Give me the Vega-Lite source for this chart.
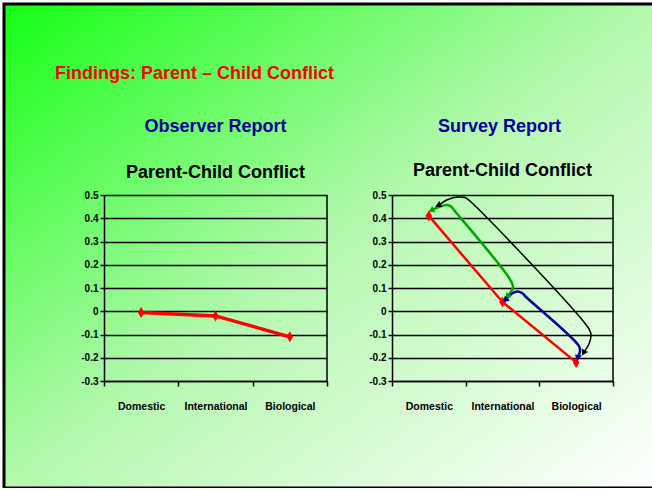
{
  "$schema": "https://vega.github.io/schema/vega-lite/v6.json",
  "width": 650,
  "height": 484,
  "autosize": {"type": "none"},
  "padding": {"left": 4, "top": 4, "right": 0, "bottom": 0},
  "background": "#ffffff",
  "view": {
    "fill": {
      "gradient": "linear", "x1": 0, "y1": 0, "x2": 1, "y2": 1,
      "stops": [
        {"offset": 0, "color": "#14ff14"},
        {"offset": 0.5, "color": "#b4f8ae"},
        {"offset": 1, "color": "#ffffff"}
      ]
    },
    "stroke": "#000000",
    "strokeWidth": 3
  },
  "config": {
    "axis": {
      "domainColor": "#000000", "domainWidth": 1.5,
      "tickColor": "#000000", "tickWidth": 1.5,
      "gridColor": "#000000", "gridWidth": 1.5, "gridOpacity": 1,
      "labelColor": "#000000", "labelFont": "Liberation Sans",
      "labelFontWeight": "bold", "title": null
    }
  },
  "datasets": {
    "observer": [
      {"type": "Domestic", "value": -0.005},
      {"type": "International", "value": -0.02},
      {"type": "Biological", "value": -0.11}
    ],
    "survey": [
      {"type": "Domestic", "value": 0.41},
      {"type": "International", "value": 0.04},
      {"type": "Biological", "value": -0.22}
    ],
    "arrows": [
      {"arrow": "green", "i": 1, "x": 0.543, "y": 0.4355},
      {"arrow": "green", "i": 2, "x": 0.651, "y": 0.4505},
      {"arrow": "green", "i": 3, "x": 0.747, "y": 0.457},
      {"arrow": "green", "i": 4, "x": 0.801, "y": 0.4505},
      {"arrow": "green", "i": 5, "x": 0.855, "y": 0.43},
      {"arrow": "green", "i": 6, "x": 1.588, "y": 0.144},
      {"arrow": "green", "i": 7, "x": 1.642, "y": 0.105},
      {"arrow": "green", "i": 8, "x": 1.575, "y": 0.067},
      {"arrow": "blue", "i": 1, "x": 1.547, "y": 0.0505},
      {"arrow": "blue", "i": 2, "x": 1.629, "y": 0.0763},
      {"arrow": "blue", "i": 3, "x": 1.697, "y": 0.0849},
      {"arrow": "blue", "i": 4, "x": 1.765, "y": 0.0785},
      {"arrow": "blue", "i": 5, "x": 1.819, "y": 0.0613},
      {"arrow": "blue", "i": 6, "x": 2.538, "y": -0.1495},
      {"arrow": "blue", "i": 7, "x": 2.552, "y": -0.171},
      {"arrow": "blue", "i": 8, "x": 2.525, "y": -0.1968},
      {"arrow": "black", "i": 1, "x": 0.638, "y": 0.457},
      {"arrow": "black", "i": 2, "x": 0.76, "y": 0.4806},
      {"arrow": "black", "i": 3, "x": 0.896, "y": 0.4914},
      {"arrow": "black", "i": 4, "x": 0.991, "y": 0.4892},
      {"arrow": "black", "i": 5, "x": 1.072, "y": 0.4699},
      {"arrow": "black", "i": 6, "x": 2.647, "y": -0.0634},
      {"arrow": "black", "i": 7, "x": 2.701, "y": -0.0978},
      {"arrow": "black", "i": 8, "x": 2.674, "y": -0.1409},
      {"arrow": "black", "i": 9, "x": 2.606, "y": -0.1753}
    ],
    "heads": [
      {"arrow": "green", "x": 0.543, "y": 0.4355, "heading": 245},
      {"arrow": "green", "x": 1.575, "y": 0.067, "heading": 210},
      {"arrow": "black", "x": 0.638, "y": 0.457, "heading": 245},
      {"arrow": "black", "x": 2.606, "y": -0.1753, "heading": 210},
      {"arrow": "blue", "x": 1.547, "y": 0.0505, "heading": 225},
      {"arrow": "blue", "x": 2.525, "y": -0.1968, "heading": 190}
    ]
  },
  "layer": [
    {
      "data": {"name": "observer"},
      "layer": [
        {
          "mark": {"type": "line", "color": "#ff0000", "strokeWidth": 3.5},
          "encoding": {
            "x": {
              "field": "type", "type": "nominal", "sort": null,
              "scale": {"type": "band", "domain": ["Domestic", "International", "Biological"], "range": [100, 323], "paddingInner": 0, "paddingOuter": 0},
              "axis": {"orient": "bottom", "offset": -107, "tickBand": "extent", "tickSize": 5, "labelPadding": 15, "labelFontSize": 10.5, "labelAngle": 0, "grid": false}
            },
            "y": {
              "field": "value", "type": "quantitative",
              "scale": {"domain": [-0.3, 0.5], "range": [377, 191], "zero": false, "nice": false},
              "axis": {"orient": "left", "offset": -100, "values": [-0.3, -0.2, -0.1, 0, 0.1, 0.2, 0.3, 0.4, 0.5], "format": ".1~f", "labelExpr": "replace(datum.label, '−', '-')", "tickSize": 4, "labelPadding": 2, "labelFontSize": 10, "grid": true}
            }
          }
        },
        {
          "mark": {"type": "point", "shape": "M0,-1L0.6,0L0,1L-0.6,0Z", "filled": true, "color": "#ff0000", "size": 120, "opacity": 1},
          "encoding": {
            "x": {"field": "type", "type": "nominal", "sort": null},
            "y": {"field": "value", "type": "quantitative"}
          }
        },
        {
          "data": {"values": [{}]},
          "mark": {"type": "rule", "color": "#000000", "strokeWidth": 1.5},
          "encoding": {
            "x": {"datum": "Biological", "bandPosition": 1},
            "y": {"datum": -0.3},
            "y2": {"datum": 0.5}
          }
        },
        {
          "data": {"values": [{}]},
          "mark": {"type": "text", "text": "Findings: Parent – Child Conflict", "font": "Liberation Sans", "fontSize": 18, "fontWeight": "bold", "color": "#ff0000", "align": "left", "baseline": "alphabetic", "dx": -49},
          "encoding": {
            "x": {"datum": "Domestic", "bandPosition": 0},
            "y": {"datum": 1.0}
          }
        },
        {
          "data": {"values": [{}]},
          "mark": {"type": "text", "text": "Observer Report", "font": "Liberation Sans", "fontSize": 18, "fontWeight": "bold", "color": "#000099", "align": "center", "baseline": "alphabetic"},
          "encoding": {
            "x": {"datum": "International"},
            "y": {"datum": 0.771}
          }
        },
        {
          "data": {"values": [{}]},
          "mark": {"type": "text", "text": "Parent-Child Conflict", "font": "Liberation Sans", "fontSize": 18, "fontWeight": "bold", "color": "#000000", "align": "center", "baseline": "alphabetic"},
          "encoding": {
            "x": {"datum": "International"},
            "y": {"datum": 0.575}
          }
        }
      ]
    },
    {
      "data": {"name": "survey"},
      "layer": [
        {
          "mark": {"type": "line", "color": "#ff0000", "strokeWidth": 2.5},
          "encoding": {
            "x": {
              "field": "type", "type": "nominal", "sort": null,
              "scale": {"type": "band", "domain": ["Domestic", "International", "Biological"], "range": [388, 609], "paddingInner": 0, "paddingOuter": 0},
              "axis": {"orient": "bottom", "offset": -107, "tickBand": "extent", "tickSize": 5, "labelPadding": 15, "labelFontSize": 10.5, "labelAngle": 0, "grid": false}
            },
            "y": {
              "field": "value", "type": "quantitative",
              "scale": {"domain": [-0.3, 0.5], "range": [377, 191], "zero": false, "nice": false},
              "axis": {"orient": "left", "offset": -388, "values": [-0.3, -0.2, -0.1, 0, 0.1, 0.2, 0.3, 0.4, 0.5], "format": ".1~f", "labelExpr": "replace(datum.label, '−', '-')", "tickSize": 4, "labelPadding": 2, "labelFontSize": 10, "grid": true}
            }
          }
        },
        {
          "mark": {"type": "point", "shape": "M0,-1L0.6,0L0,1L-0.6,0Z", "filled": true, "color": "#ff0000", "size": 120, "opacity": 1},
          "encoding": {
            "x": {"field": "type", "type": "nominal", "sort": null},
            "y": {"field": "value", "type": "quantitative"}
          }
        },
        {
          "data": {"values": [{}]},
          "mark": {"type": "rule", "color": "#000000", "strokeWidth": 1.5},
          "encoding": {
            "x": {"datum": "Biological", "bandPosition": 1},
            "y": {"datum": -0.3},
            "y2": {"datum": 0.5}
          }
        },
        {
          "data": {"values": [{}]},
          "mark": {"type": "text", "text": "Survey Report", "font": "Liberation Sans", "fontSize": 18, "fontWeight": "bold", "color": "#000099", "align": "center", "baseline": "alphabetic", "dx": -3},
          "encoding": {
            "x": {"datum": "International"},
            "y": {"datum": 0.771}
          }
        },
        {
          "data": {"values": [{}]},
          "mark": {"type": "text", "text": "Parent-Child Conflict", "font": "Liberation Sans", "fontSize": 18, "fontWeight": "bold", "color": "#000000", "align": "center", "baseline": "alphabetic"},
          "encoding": {
            "x": {"datum": "International"},
            "y": {"datum": 0.58}
          }
        }
      ]
    },
    {
      "data": {"name": "arrows"},
      "layer": [
        {
          "transform": [{"filter": "datum.arrow === 'black'"}],
          "mark": {"type": "line", "interpolate": "catmull-rom", "strokeWidth": 1.5},
          "encoding": {
            "x": {"field": "x", "type": "quantitative", "scale": {"domain": [0, 3], "range": [388, 609], "zero": false, "nice": false}, "axis": null},
            "y": {"field": "y", "type": "quantitative", "scale": {"domain": [-0.3, 0.5], "range": [377, 191], "zero": false, "nice": false}, "axis": null},
            "order": {"field": "i", "type": "quantitative"},
            "detail": {"field": "arrow"},
            "color": {"field": "arrow", "type": "nominal", "scale": {"domain": ["black", "green", "blue"], "range": ["#000000", "#00a600", "#000099"]}, "legend": null}
          }
        },
        {
          "transform": [{"filter": "datum.arrow !== 'black'"}],
          "mark": {"type": "line", "interpolate": "catmull-rom", "strokeWidth": 2.5},
          "encoding": {
            "x": {"field": "x", "type": "quantitative"},
            "y": {"field": "y", "type": "quantitative"},
            "order": {"field": "i", "type": "quantitative"},
            "detail": {"field": "arrow"},
            "color": {"field": "arrow", "type": "nominal", "legend": null}
          }
        },
        {
          "data": {"name": "heads"},
          "mark": {"type": "point", "shape": "triangle", "filled": true, "size": 50, "opacity": 1},
          "encoding": {
            "x": {"field": "x", "type": "quantitative"},
            "y": {"field": "y", "type": "quantitative"},
            "angle": {"field": "heading", "type": "quantitative", "scale": null},
            "color": {"field": "arrow", "type": "nominal", "legend": null}
          }
        }
      ]
    }
  ],
  "resolve": {
    "scale": {"x": "independent", "y": "independent"},
    "axis": {"x": "independent", "y": "independent"}
  }
}
